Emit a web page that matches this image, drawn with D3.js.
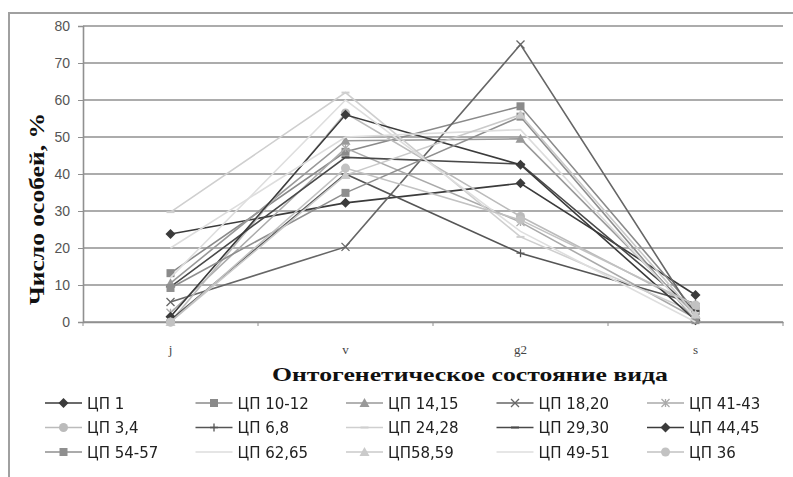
<!DOCTYPE html>
<html>
<head>
<meta charset="utf-8">
<script src="https://cdn.jsdelivr.net/npm/d3@7"></script>
<style>
  body { margin: 0; background: #fff; }
  svg { display: block; }
</style>
</head>
<body>
<div id="chart"></div>
<script>
// data
const categories = ['j', 'v', 'g2', 's'];
const seriesNames = [
  'ЦП 1', 'ЦП 10-12', 'ЦП 14,15', 'ЦП 18,20', 'ЦП 41-43',
  'ЦП 3,4', 'ЦП 6,8', 'ЦП  24,28', 'ЦП 29,30', 'ЦП 44,45',
  'ЦП 54-57', 'ЦП 62,65', 'ЦП58,59', 'ЦП 49-51', 'ЦП 36'
];
const seriesValues = [
  [23.8, 32.2, 37.5, 7.3],
  [13.2, 46, 58.3, 3],
  [10.5, 49, 49.5, 2],
  [5.4, 20.3, 75, 1.5],
  [2.5, 47, 27, 1],
  [0, 56.5, 28.5, 4],
  [0.5, 40, 18.6, 5],
  [29.7, 62, 23, 2.5],
  [9.5, 44.5, 42.7, 3],
  [1.4, 56, 42.5, 0.5],
  [9.2, 34.9, 55.5, 0.5],
  [20, 50, 52, 1],
  [0, 39.7, 56, 2],
  [12, 60, 24.5, 0],
  [0, 41.6, 27.6, 4.6]
];
const yTicks = [0, 10, 20, 30, 40, 50, 60, 70, 80];

// styles
const seriesColors = ['#3a3a3a', '#8a8a8a', '#999', '#666', '#aaa', '#bbb', '#555', '#cfcfcf',
  '#4a4a4a', '#3a3a3a', '#8f8f8f', '#ddd', '#cacaca', '#dedede', '#c2c2c2'];
const seriesMarkers = ['diamond', 'square', 'triangle', 'x', 'asterisk', 'circle', 'plus', 'dash',
  'dash', 'diamond', 'square', 'none', 'triangle', 'none', 'circle'];

const width = 793, height = 477;
const margin = { left: 83, right: 10, top: 26, bottom: 155 };

const svg = d3.select('#chart').append('svg')
  .attr('width', width)
  .attr('height', height);

const defs = svg.append('defs');
defs.append('filter').attr('id', 'soft')
  .append('feGaussianBlur').attr('stdDeviation', 0.7);

// outer frame
svg.append('path')
  .attr('d', `M9,${height} V13 H${width}`)
  .attr('fill', 'none')
  .attr('stroke', '#a0a0a0')
  .attr('stroke-width', 2);

const x = d3.scaleBand()
  .domain(categories)
  .range([margin.left, 783]);
const y = d3.scaleLinear()
  .domain([0, 80])
  .range([height - margin.bottom, margin.top]);
const cx = c => x(c) + x.bandwidth() / 2;

// grid
svg.append('g').selectAll('line')
  .data(yTicks)
  .join('line')
  .attr('x1', margin.left)
  .attr('x2', 783)
  .attr('y1', d => y(d))
  .attr('y2', d => y(d))
  .attr('stroke', '#909090')
  .attr('stroke-width', 1.6);

// y axis
const yAxis = svg.append('g')
  .attr('transform', `translate(${margin.left},0)`)
  .call(d3.axisLeft(y).tickValues(yTicks).tickSize(5).tickPadding(8));
yAxis.select('.domain').attr('stroke', '#909090').attr('stroke-width', 1.6);
yAxis.selectAll('.tick line').attr('stroke', '#909090');
yAxis.selectAll('.tick text')
  .attr('fill', '#555')
  .style('font-family', '"Liberation Sans", sans-serif')
  .style('font-size', '14px');

// x axis
const xAxis = svg.append('g')
  .attr('transform', `translate(0,${y(0)})`)
  .call(d3.axisBottom(x).tickSize(0).tickPadding(23));
xAxis.select('.domain').attr('stroke', '#909090').attr('stroke-width', 1.6);
xAxis.selectAll('.tick text')
  .attr('fill', '#444')
  .style('font-family', '"Liberation Serif", serif')
  .style('font-size', '13px');
svg.append('g').selectAll('line')
  .data(categories.map(c => x(c)).concat([783]))
  .join('line')
  .attr('x1', d => d).attr('x2', d => d)
  .attr('y1', y(0)).attr('y2', y(0) + 4)
  .attr('stroke', '#909090');

// axis titles
svg.append('text')
  .attr('transform', `translate(44,209) rotate(-90)`)
  .attr('text-anchor', 'middle')
  .attr('textLength', 192)
  .attr('lengthAdjust', 'spacingAndGlyphs')
  .style('font-family', '"Liberation Serif", serif')
  .style('font-weight', 'bold')
  .style('font-size', '22px')
  .attr('fill', '#111')
  .text('Число особей, %');

svg.append('text')
  .attr('x', 470)
  .attr('y', 381)
  .attr('text-anchor', 'middle')
  .attr('textLength', 396)
  .attr('lengthAdjust', 'spacingAndGlyphs')
  .style('font-family', '"Liberation Serif", serif')
  .style('font-weight', 'bold')
  .style('font-size', '19px')
  .attr('fill', '#111')
  .text('Онтогенетическое состояние вида');

function drawMarker(g, type, color, px, py) {
  const s = 4;
  if (type === 'diamond') {
    g.append('path').attr('d', `M${px},${py - s - 1}L${px + s + 1},${py}L${px},${py + s + 1}L${px - s - 1},${py}Z`)
      .attr('fill', color);
  } else if (type === 'square') {
    g.append('rect').attr('x', px - s).attr('y', py - s).attr('width', 2 * s).attr('height', 2 * s)
      .attr('fill', color);
  } else if (type === 'triangle') {
    g.append('path').attr('d', `M${px},${py - s - 1}L${px + s + 1},${py + s}L${px - s - 1},${py + s}Z`)
      .attr('fill', color);
  } else if (type === 'circle') {
    g.append('circle').attr('cx', px).attr('cy', py).attr('r', s + 0.5).attr('fill', color);
  } else if (type === 'x') {
    g.append('path').attr('d', `M${px - s},${py - s}L${px + s},${py + s}M${px - s},${py + s}L${px + s},${py - s}`)
      .attr('stroke', color).attr('stroke-width', 1.3);
  } else if (type === 'plus') {
    g.append('path').attr('d', `M${px - s},${py}H${px + s}M${px},${py - s}V${py + s}`)
      .attr('stroke', color).attr('stroke-width', 1.3);
  } else if (type === 'asterisk') {
    g.append('path').attr('d', `M${px - s},${py - s}L${px + s},${py + s}M${px - s},${py + s}L${px + s},${py - s}M${px},${py - s}V${py + s}`)
      .attr('stroke', color).attr('stroke-width', 1.3);
  } else if (type === 'dash') {
    g.append('path').attr('d', `M${px - s},${py}H${px + s}`)
      .attr('stroke', color).attr('stroke-width', 2);
  }
}

// series lines
const line = d3.line()
  .x((d, i) => cx(categories[i]))
  .y(d => y(d));

const plot = svg.append('g').attr('filter', 'url(#soft)');
seriesNames.forEach((name, k) => {
  const g = plot.append('g');
  g.append('path')
    .datum(seriesValues[k])
    .attr('d', line)
    .attr('fill', 'none')
    .attr('stroke', seriesColors[k])
    .attr('stroke-width', 1.6);
  seriesValues[k].forEach((v, i) => drawMarker(g, seriesMarkers[k], seriesColors[k], cx(categories[i]), y(v)));
});

// legend
const legend = svg.append('g').attr('filter', 'url(#soft)');
seriesNames.forEach((name, k) => {
  const col = k % 5, row = Math.floor(k / 5);
  const lx = 45 + col * 150.5;
  const ly = 403 + row * 24.5;
  const g = legend.append('g');
  g.append('line')
    .attr('x1', lx).attr('x2', lx + 37)
    .attr('y1', ly).attr('y2', ly)
    .attr('stroke', seriesColors[k])
    .attr('stroke-width', 1.6);
  drawMarker(g, seriesMarkers[k], seriesColors[k], lx + 18.5, ly);
  g.append('text')
    .attr('x', lx + 42)
    .attr('y', ly + 5.5)
    .attr('fill', '#222')
    .style('font-family', '"DejaVu Sans", sans-serif')
    .style('font-size', '15px')
    .text(name);
});
</script>
</body>
</html>
